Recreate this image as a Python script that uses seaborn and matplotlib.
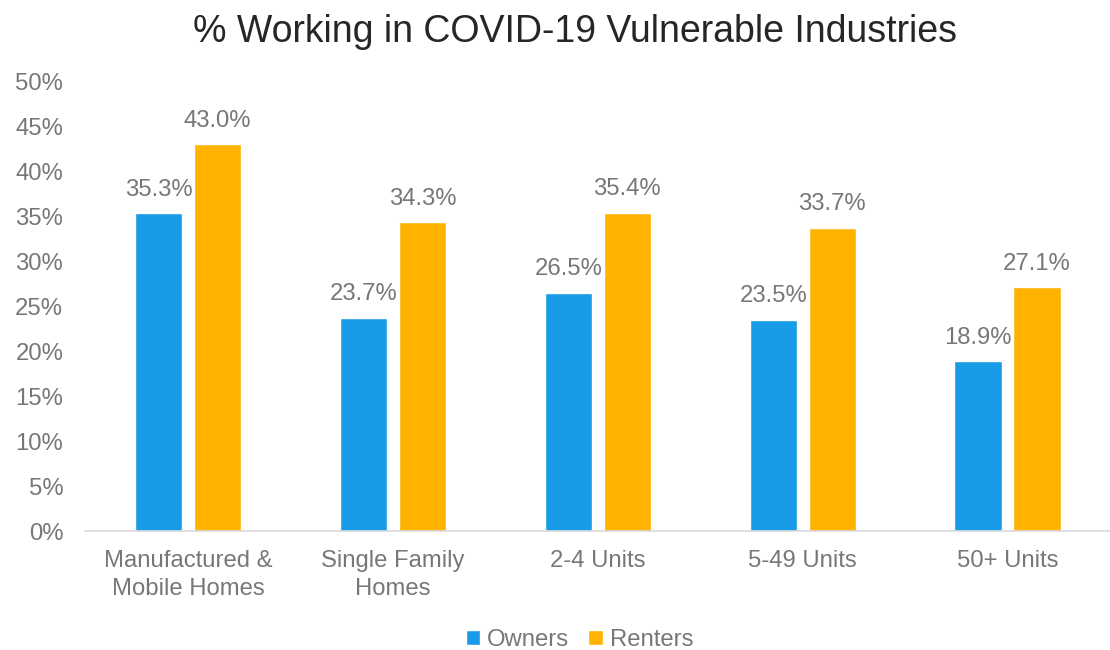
import matplotlib
matplotlib.use("Agg")
import matplotlib.pyplot as plt
import seaborn as sns
import pandas as pd
from matplotlib.patches import Patch

categories = ["Manufactured &\nMobile Homes", "Single Family\nHomes", "2-4 Units", "5-49 Units", "50+ Units"]
owners = [35.3, 23.7, 26.5, 23.5, 18.9]
renters = [43.0, 34.3, 35.4, 33.7, 27.1]
series = ["Owners", "Renters"]
yticks = [0, 5, 10, 15, 20, 25, 30, 35, 40, 45, 50]

df = pd.DataFrame({
    "cat": categories * 2,
    "val": owners + renters,
    "series": [series[0]] * len(categories) + [series[1]] * len(categories),
})

sns.set_theme(style="white")
plt.rcParams["font.family"] = ["Liberation Sans", "DejaVu Sans"]
gray = "#7a7676"
fs = 17.2
colors = {"Owners": "#189CE8", "Renters": "#FFB300"}

fig = plt.figure(figsize=(11.1, 6.5), dpi=100)
ax = fig.add_axes([0.077, 0.183, 0.923, 0.692])
sns.barplot(data=df, x="cat", y="val", hue="series", palette=colors,
            width=0.576, gap=0.2, ax=ax, legend=False, saturation=1)

for cont in ax.containers:
    ax.bar_label(cont, labels=[f"{v:.1f}%" for v in cont.datavalues],
                 padding=9, fontsize=fs, color=gray)

ax.set_ylim(0, 50)
ax.set_xlim(-0.5, 4.5)
ax.set_yticks(yticks)
ax.set_yticklabels([f"{t}%" for t in yticks], fontsize=fs, color=gray)
ax.tick_params(axis="x", labelsize=fs, labelcolor=gray, length=0, pad=14)
ax.tick_params(axis="y", length=0, pad=16)
for lbl in ax.get_xticklabels():
    lbl.set_linespacing(1.3)
ax.set_xlabel("")
ax.set_ylabel("")
for s in ["top", "right", "left"]:
    ax.spines[s].set_visible(False)
ax.spines["bottom"].set_color("#d9d9d9")
ax.spines["bottom"].set_linewidth(1.2)

fig.suptitle("% Working in COVID-19 Vulnerable Industries", fontsize=27,
             color="#262626", x=0.518, y=0.978)

handles = [Patch(facecolor=colors[s], label=s) for s in series]
fig.legend(handles=handles, loc="lower center", bbox_to_anchor=(0.522, -0.035),
           ncol=2, frameon=False, fontsize=fs, labelcolor=gray,
           handlelength=0.6, handleheight=0.6, handletextpad=0.3, columnspacing=0.8)

fig.savefig("out.png", dpi=100)
